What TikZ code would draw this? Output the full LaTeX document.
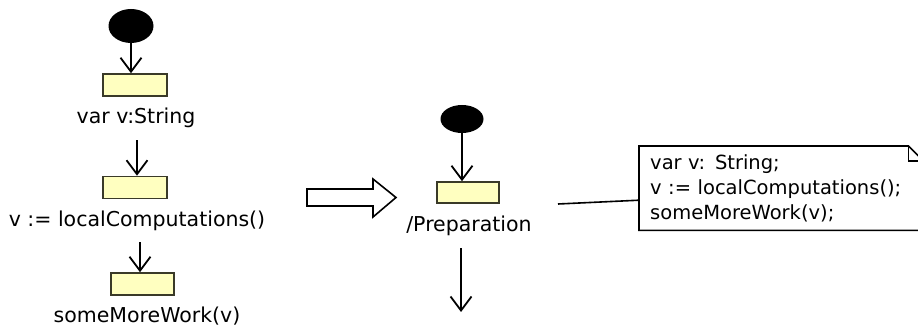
\documentclass[tikz,border=0pt]{standalone}
\usepackage{fontspec}
\setmainfont{DejaVu Sans}
\usetikzlibrary{arrows.meta,shapes.geometric,positioning}
\definecolor{Actfill}{HTML}{FFFFC0}
\definecolor{Actline}{HTML}{3A3A28}

\tikzset{
	initnode/.style={ellipse,fill=black,inner sep=0pt,minimum width=45pt,minimum height=34pt},
	actbox/.style={rectangle,draw=Actline,fill=Actfill,line width=1.6pt,inner sep=0pt,
		minimum width=64pt,minimum height=22pt},
	lbl/.style={inner sep=0pt,font=\fontsize{20.5}{26}\selectfont},
	flow/.style={line width=1.8pt,-{Straight Barb[length=14pt,width=21pt,line width=1.8pt]}},
}

\begin{document}
\begin{tikzpicture}[x=1pt,y=-1pt]
			\useasboundingbox (0,0) rectangle (918,328);
			\node[initnode] (init1) at (131,26) {};
			\node[actbox] (act1) at (135,85) {};
			\node[lbl] (txt1) at (136,118) {var v:String};
			\node[actbox] (act2) at (135,187.5) {};
			\node[lbl] (txt2) at (137,221) {v := localComputations()};
			\node[actbox,minimum width=63pt] (act3) at (142.5,284) {};
			\node[lbl] (txt3) at (147,316) {someMoreWork(v)};
			\draw[flow] (init1.south) -- (init1.south |- act1.north);
			\draw[flow,shorten <=12pt] (txt1.south -| 137,0) -- (act2.north -| 137,0);
			\draw[flow,shorten <=11pt] (txt2.south -| 140,0) -- (act3.north -| 140,0);
			\draw[line width=1.6pt,line join=miter]
				(307,189) -- (373,189) -- (373,179) -- (396,197.5)
				-- (373,217) -- (373,206) -- (307,206) -- cycle;
			\node[initnode,minimum width=43pt,minimum height=28pt] (init2) at (462,119) {};
			\node[actbox,minimum width=62pt,minimum height=21pt] (act4) at (468,192.5) {};
			\node[lbl] (txt4) at (469,226) {/Preparation};
			\coordinate (exit) at (461,312);
			\draw[flow] (init2.south) -- (init2.south |- act4.north);
			\draw[flow,shorten <=12pt] (txt4.south -| exit) -- (exit);
			\node[lbl,font=\fontsize{19.5}{25}\selectfont,align=left,anchor=north west,
				inner xsep=11pt,inner ysep=0pt,text width=262pt,minimum height=84pt] (note)
				at (639,146) {var v: String;\\v := localComputations();\\someMoreWork(v);};
			\draw[line width=1.6pt] (note.north west) -- ([xshift=-15pt]note.north east)
				-- ([yshift=-15pt]note.north east) -- (note.south east)
				-- (note.south west) -- cycle;
			\draw[line width=1.6pt] ([xshift=-15pt]note.north east)
				|- ([yshift=-15pt]note.north east);
			\coordinate (notetail) at (558,204);
			\draw[line width=1.6pt] (notetail) -- ([yshift=-12pt]note.west);
		\end{tikzpicture}
\end{document}
